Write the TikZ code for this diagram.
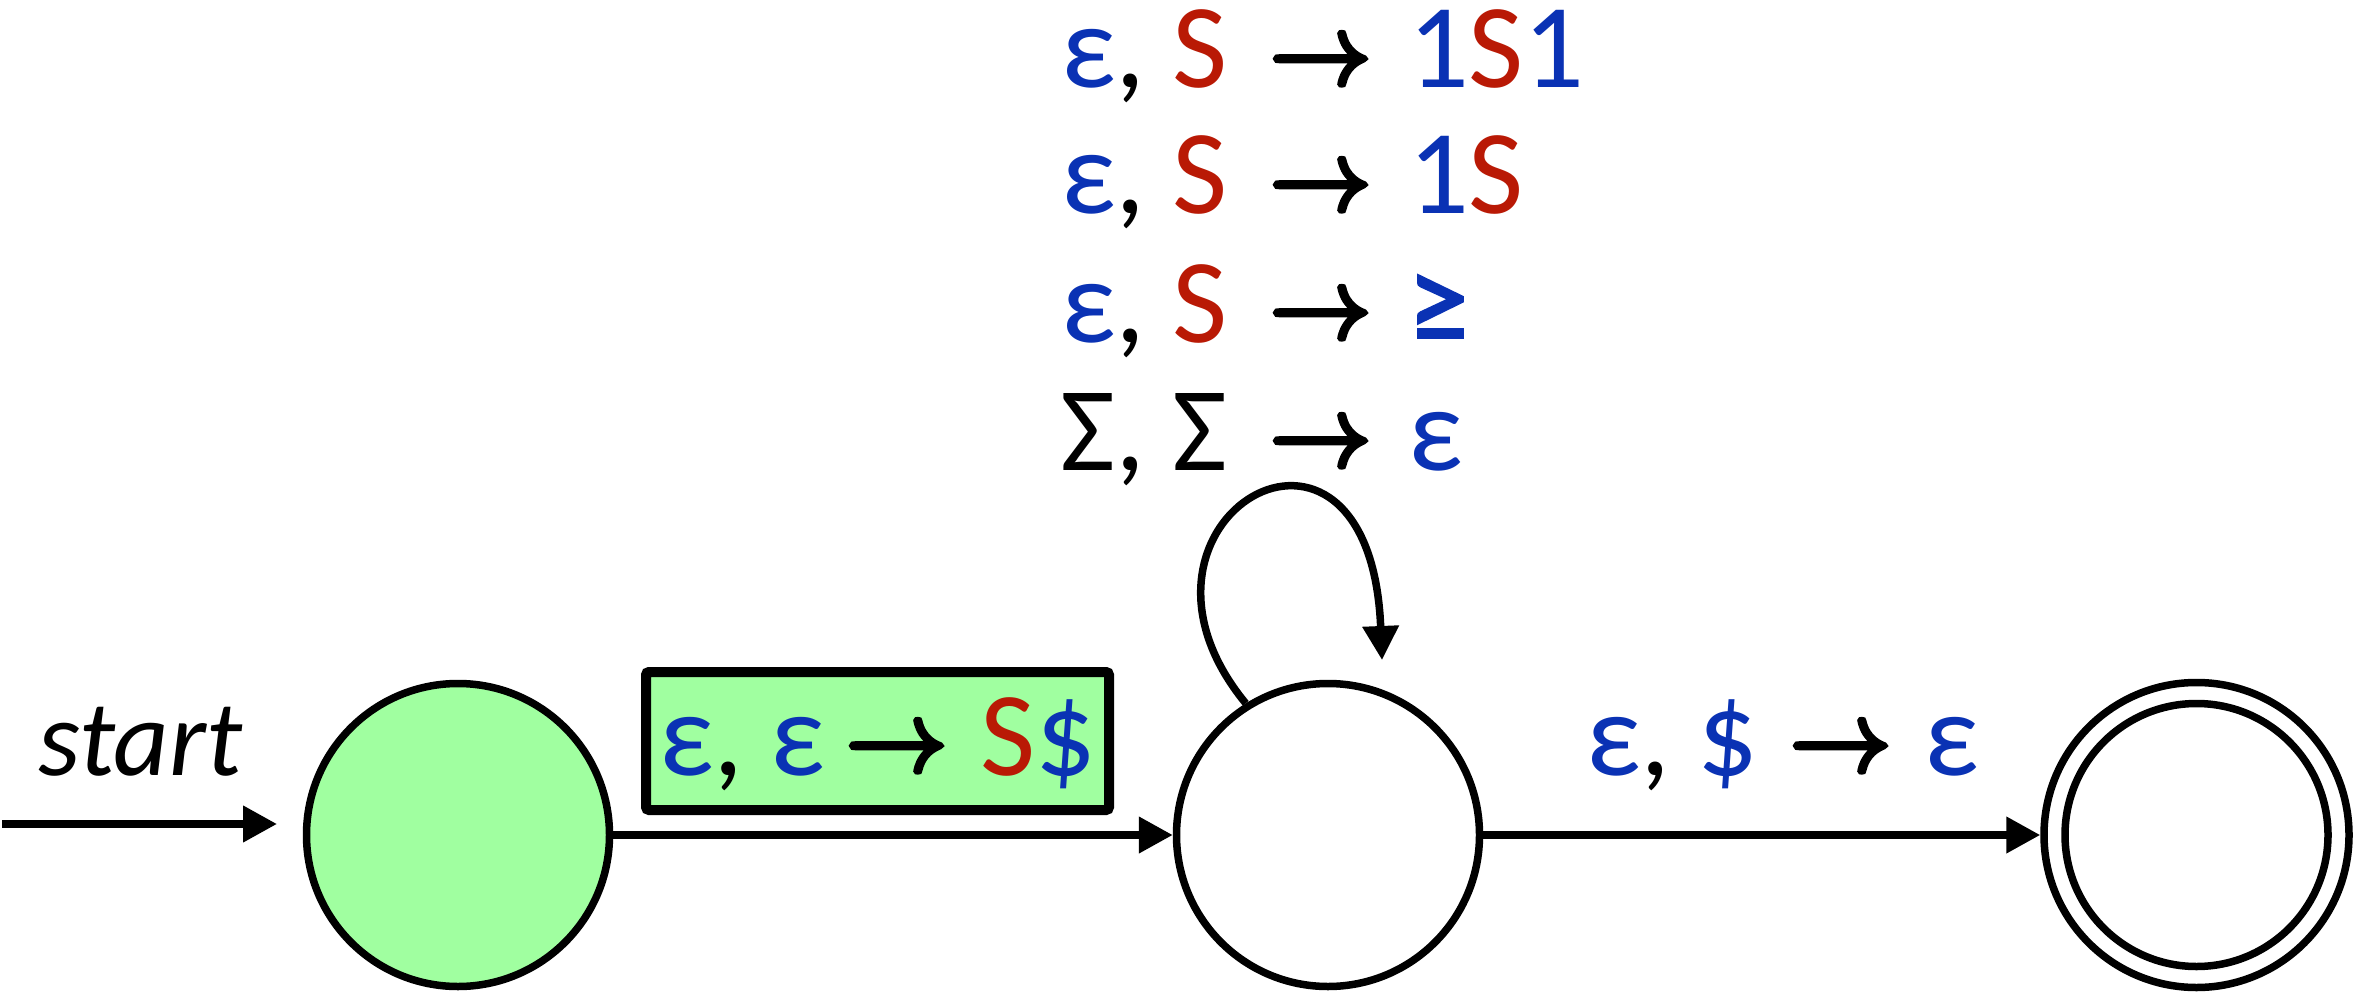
\RequirePackage{fix-cm}
\documentclass[tikz,border=0pt]{standalone}
\usepackage{fontspec}
\setmainfont{Carlito}
\usepackage{graphicx}
\usetikzlibrary{arrows.meta}

\definecolor{pdagreen}{RGB}{160,255,160}
\definecolor{symblue}{RGB}{10,50,180}
\definecolor{symred}{RGB}{185,25,5}
\newcommand\bl[1]{\textcolor{symblue}{#1}}
\newcommand\rd[1]{\textcolor{symred}{#1}}
% the stack symbol S
\newcommand\stk{\rd{S}}
% glyphs painted with an extra outline stroke, for a heavier weight
\newcommand\heavy[2]{\special{pdf:literal direct 2 Tr #1 w}#2\special{pdf:literal direct 0 Tr}}
% heavy arrow between the two halves of a transition
\newcommand\yields{{\fontsize{101}{110}\selectfont\raisebox{4pt}{\heavy{5}{$\rightarrow$}}}}

\begin{document}
\begin{tikzpicture}[x=1pt,y=-1pt,
  every node/.style={inner sep=0pt, outer sep=0pt},
  state/.style={circle, draw, line width=7.5pt, minimum size=303pt, outer sep=3.75pt},
  edge/.style={line width=7.5pt, -{Triangle[length=34pt,width=35pt]}},
  big/.style={font=\fontsize{120}{130}\selectfont},
  lbl/.style={big, anchor=base west},
]
\useasboundingbox (0,0) rectangle (2355,995);

% states
\node[state, fill=pdagreen] (q0) at (458,835) {};
\node[state] (q1) at (1328,835) {};
\node[state, minimum size=305pt] (q2) at (2196.5,835) {};
\node[circle, draw, line width=7.5pt, minimum size=263pt] (q2in) at (q2) {};

% initial arrow
\coordinate (startfrom) at (2,824);
\coordinate (startto) at (277,824);
\draw[edge] (startfrom) -- (startto);
\node[font=\fontsize{108}{130}\selectfont\itshape, anchor=base] (startlbl) at (140.5,775) {start};

% transitions
\draw[edge] (q0) -- (q1);
\draw[edge] (q1) -- (q2);
\coordinate (looptip) at (1382,660);
\draw[edge] (q1.122.5) .. controls (1095,520) and (1370,360) .. (looptip);

% push label in its highlighted box
\node[big, draw, line width=10pt, fill=pdagreen, rounded corners=3pt,
      minimum width=463pt, minimum height=138pt, text height=88pt, text depth=20pt]
  (pushlbl) at (877.5,741)
  {\makebox[187pt][l]{\bl{ε}, \bl{ε}}\yields\hspace{33pt}\stk\bl{\$}\hspace{13pt}};

% pop-bottom label
\node[lbl] (poplbl) at (1586,775) {\makebox[204pt][l]{\bl{ε}, \bl{\$}}\yields\hspace{33pt}\bl{ε}};

% self-loop labels
\node[lbl] (loopa) at (1020,88)  {\makebox[208pt][r]{\bl{ε}, \stk}\hspace{42pt}\yields\hspace{37pt}\bl{1}\stk\bl{1}};
\node[lbl] (loopb) at (1020,214) {\makebox[208pt][r]{\bl{ε}, \stk}\hspace{42pt}\yields\hspace{37pt}\bl{1}\stk};
\node[lbl] (loopc) at (1020,342) {\makebox[208pt][r]{\bl{ε}, \stk}\hspace{42pt}\yields\hspace{37pt}\bl{\heavy{3}{≥}}};
\node[lbl] (loopd) at (1020,470) {\makebox[208pt][r]{Σ, Σ}\hspace{42pt}\yields\hspace{37pt}\bl{ε}};
\end{tikzpicture}
\end{document}
